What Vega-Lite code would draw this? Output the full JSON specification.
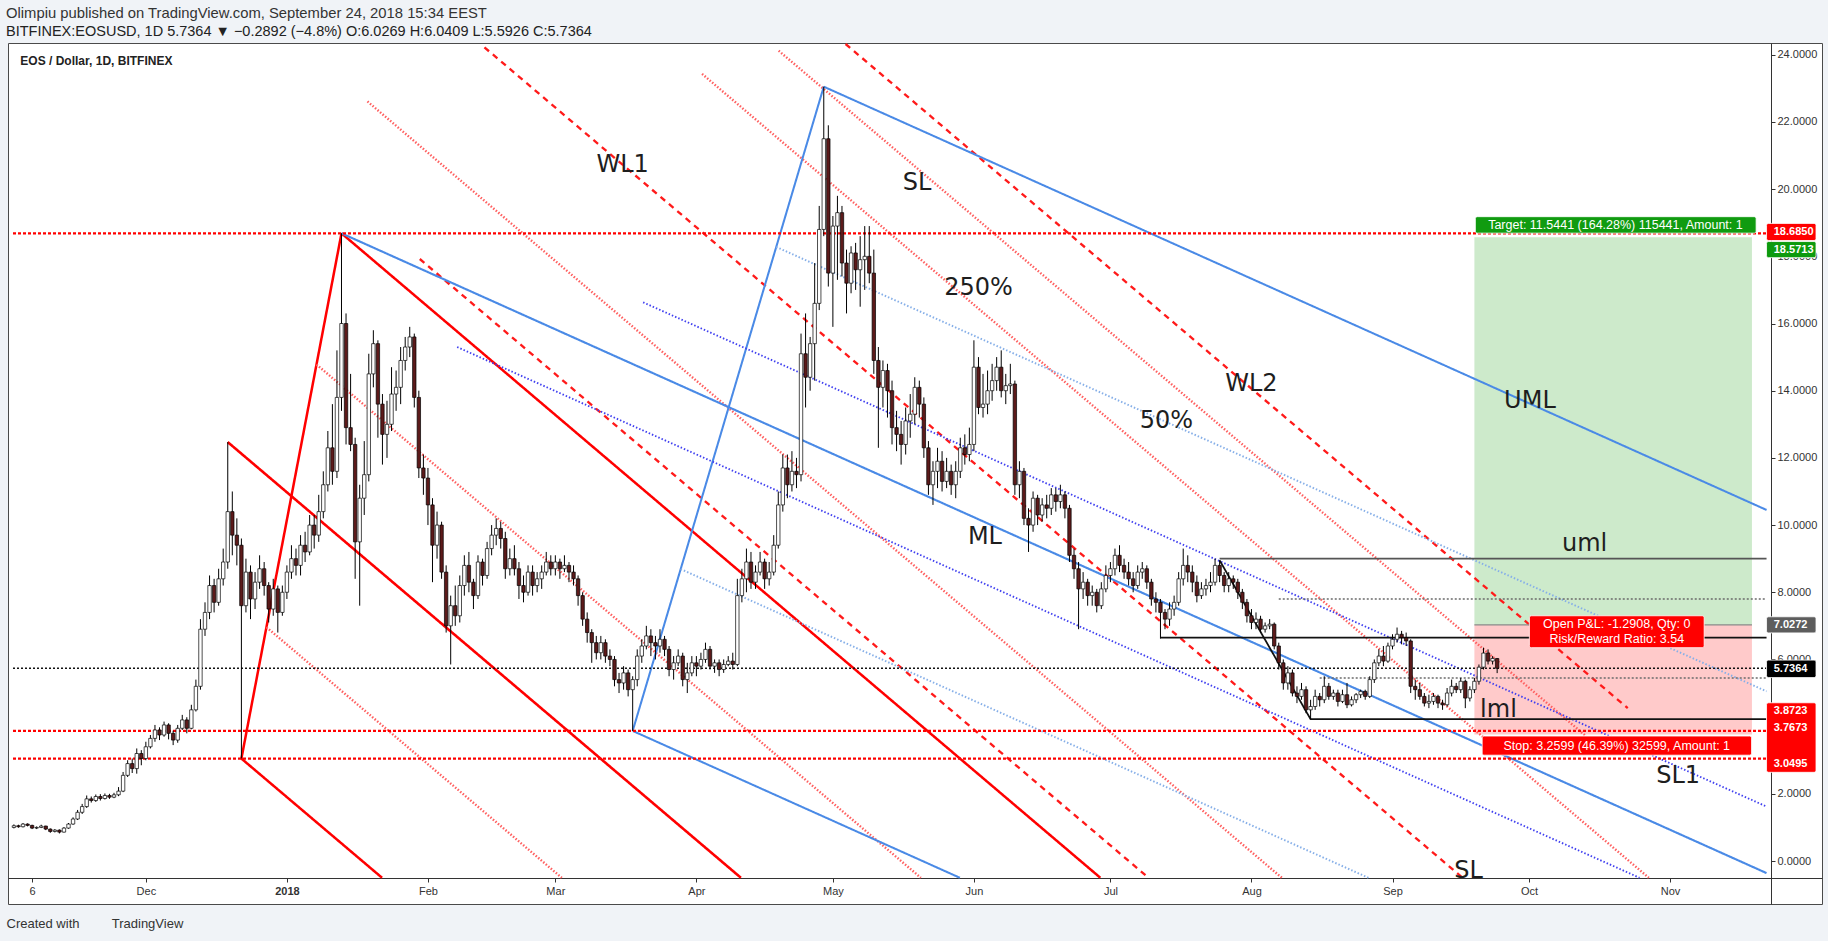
{
  "$schema": "https://vega.github.io/schema/vega-lite/v6.json",
  "width": 1814,
  "height": 861,
  "autosize": "none",
  "padding": {"left": 8, "top": 43, "right": 6, "bottom": 37},
  "background": "#f0f3f7",
  "view": {"fill": "#ffffff", "stroke": "#4a4a4a", "strokeWidth": 1},
  "config": {
    "font": "Liberation Sans",
    "axis": {"grid": false, "domainColor": "#333333", "tickColor": "#333333", "labelColor": "#333333", "labelFontSize": 11, "labelFont": "Liberation Sans"}
  },
  "title": {
    "text": "Olimpiu published on TradingView.com, September 24, 2018 15:34 EEST",
    "subtitle": "BITFINEX:EOSUSD, 1D  5.7364 ▼ −0.2892 (−4.8%)  O:6.0269 H:6.0409 L:5.5926 C:5.7364",
    "anchor": "start",
    "frame": "group",
    "orient": "top",
    "offset": 1,
    "dx": -2,
    "font": "Liberation Sans",
    "fontSize": 14.8,
    "fontWeight": "normal",
    "color": "#333333",
    "subtitleFont": "Liberation Sans",
    "subtitleFontSize": 14.5,
    "subtitleColor": "#222222",
    "subtitlePadding": 4.5
  },
  "resolve": {"scale": {"color": "independent", "strokeWidth": "independent", "strokeDash": "independent"}},
  "datasets": {
    "zones": [
      {"k": "profit", "t": "2018-09-19", "t2": "2018-11-19", "y1": 7.0272, "y2": 18.5713},
      {"k": "loss", "t": "2018-09-19", "t2": "2018-11-19", "y1": 3.7673, "y2": 7.0272}
    ],
    "candles": [
      {"t":"2017-11-02","o":1.00,"h":1.09,"l":0.97,"c":1.05},
      {"t":"2017-11-03","o":1.05,"h":1.08,"l":0.99,"c":1.02},
      {"t":"2017-11-04","o":1.02,"h":1.13,"l":1.00,"c":1.10},
      {"t":"2017-11-05","o":1.10,"h":1.12,"l":1.03,"c":1.06},
      {"t":"2017-11-06","o":1.06,"h":1.08,"l":0.95,"c":0.98},
      {"t":"2017-11-07","o":0.98,"h":1.03,"l":0.95,"c":1.00},
      {"t":"2017-11-08","o":1.00,"h":1.08,"l":0.98,"c":1.04},
      {"t":"2017-11-09","o":1.04,"h":1.05,"l":0.92,"c":0.95},
      {"t":"2017-11-10","o":0.95,"h":0.97,"l":0.84,"c":0.88},
      {"t":"2017-11-11","o":0.88,"h":0.95,"l":0.85,"c":0.92},
      {"t":"2017-11-12","o":0.92,"h":0.94,"l":0.82,"c":0.86},
      {"t":"2017-11-13","o":0.86,"h":1.01,"l":0.85,"c":0.98},
      {"t":"2017-11-14","o":0.98,"h":1.13,"l":0.96,"c":1.10},
      {"t":"2017-11-15","o":1.10,"h":1.30,"l":1.08,"c":1.25},
      {"t":"2017-11-16","o":1.25,"h":1.52,"l":1.22,"c":1.45},
      {"t":"2017-11-17","o":1.45,"h":1.70,"l":1.40,"c":1.62},
      {"t":"2017-11-18","o":1.62,"h":1.95,"l":1.58,"c":1.85},
      {"t":"2017-11-19","o":1.85,"h":1.92,"l":1.74,"c":1.80},
      {"t":"2017-11-20","o":1.80,"h":1.98,"l":1.76,"c":1.92},
      {"t":"2017-11-21","o":1.92,"h":1.99,"l":1.80,"c":1.86},
      {"t":"2017-11-22","o":1.86,"h":2.01,"l":1.83,"c":1.95},
      {"t":"2017-11-23","o":1.95,"h":2.00,"l":1.85,"c":1.90},
      {"t":"2017-11-24","o":1.90,"h":2.03,"l":1.87,"c":1.97},
      {"t":"2017-11-25","o":1.97,"h":2.20,"l":1.93,"c":2.08},
      {"t":"2017-11-26","o":2.08,"h":2.65,"l":2.05,"c":2.55},
      {"t":"2017-11-27","o":2.55,"h":3.00,"l":2.50,"c":2.90},
      {"t":"2017-11-28","o":2.90,"h":3.05,"l":2.62,"c":2.75},
      {"t":"2017-11-29","o":2.75,"h":3.35,"l":2.60,"c":3.20},
      {"t":"2017-11-30","o":3.20,"h":3.30,"l":2.85,"c":3.05},
      {"t":"2017-12-01","o":3.05,"h":3.55,"l":3.00,"c":3.40},
      {"t":"2017-12-02","o":3.40,"h":3.75,"l":3.35,"c":3.65},
      {"t":"2017-12-03","o":3.65,"h":4.05,"l":3.55,"c":3.90},
      {"t":"2017-12-04","o":3.90,"h":3.98,"l":3.60,"c":3.75},
      {"t":"2017-12-05","o":3.75,"h":4.15,"l":3.70,"c":4.05},
      {"t":"2017-12-06","o":4.05,"h":4.10,"l":3.62,"c":3.80},
      {"t":"2017-12-07","o":3.80,"h":3.88,"l":3.45,"c":3.60},
      {"t":"2017-12-08","o":3.60,"h":4.05,"l":3.52,"c":3.95},
      {"t":"2017-12-09","o":3.95,"h":4.35,"l":3.90,"c":4.20},
      {"t":"2017-12-10","o":4.20,"h":4.28,"l":3.80,"c":3.95},
      {"t":"2017-12-11","o":3.95,"h":4.65,"l":3.92,"c":4.50},
      {"t":"2017-12-12","o":4.50,"h":5.40,"l":4.45,"c":5.20},
      {"t":"2017-12-13","o":5.20,"h":7.20,"l":5.10,"c":6.90},
      {"t":"2017-12-14","o":6.90,"h":7.70,"l":6.70,"c":7.40},
      {"t":"2017-12-15","o":7.40,"h":8.50,"l":7.20,"c":8.20},
      {"t":"2017-12-16","o":8.20,"h":8.40,"l":7.40,"c":7.70},
      {"t":"2017-12-17","o":7.70,"h":8.70,"l":7.60,"c":8.40},
      {"t":"2017-12-18","o":8.40,"h":9.30,"l":8.20,"c":8.90},
      {"t":"2017-12-19","o":8.90,"h":12.47,"l":8.70,"c":10.40},
      {"t":"2017-12-20","o":10.40,"h":11.00,"l":9.10,"c":9.70},
      {"t":"2017-12-21","o":9.70,"h":10.20,"l":8.80,"c":9.40},
      {"t":"2017-12-22","o":9.40,"h":9.60,"l":3.05,"c":7.60},
      {"t":"2017-12-23","o":7.60,"h":9.00,"l":7.40,"c":8.60},
      {"t":"2017-12-24","o":8.60,"h":8.80,"l":7.20,"c":7.80},
      {"t":"2017-12-25","o":7.80,"h":8.60,"l":7.50,"c":8.30},
      {"t":"2017-12-26","o":8.30,"h":9.10,"l":8.10,"c":8.70},
      {"t":"2017-12-27","o":8.70,"h":8.90,"l":7.90,"c":8.20},
      {"t":"2017-12-28","o":8.20,"h":8.30,"l":7.10,"c":7.50},
      {"t":"2017-12-29","o":7.50,"h":8.40,"l":7.30,"c":8.10},
      {"t":"2017-12-30","o":8.10,"h":8.20,"l":6.80,"c":7.40},
      {"t":"2017-12-31","o":7.40,"h":8.20,"l":7.30,"c":8.00},
      {"t":"2018-01-01","o":8.00,"h":8.80,"l":7.80,"c":8.60},
      {"t":"2018-01-02","o":8.60,"h":9.40,"l":8.40,"c":9.00},
      {"t":"2018-01-03","o":9.00,"h":9.30,"l":8.50,"c":8.80},
      {"t":"2018-01-04","o":8.80,"h":9.70,"l":8.50,"c":9.40},
      {"t":"2018-01-05","o":9.40,"h":9.80,"l":8.90,"c":9.20},
      {"t":"2018-01-06","o":9.20,"h":10.30,"l":9.10,"c":10.00},
      {"t":"2018-01-07","o":10.00,"h":10.30,"l":9.30,"c":9.70},
      {"t":"2018-01-08","o":9.70,"h":10.90,"l":9.50,"c":10.40},
      {"t":"2018-01-09","o":10.40,"h":11.60,"l":10.20,"c":11.20},
      {"t":"2018-01-10","o":11.20,"h":12.80,"l":11.00,"c":12.30},
      {"t":"2018-01-11","o":12.30,"h":13.60,"l":11.20,"c":11.60},
      {"t":"2018-01-12","o":11.60,"h":15.20,"l":11.40,"c":13.80},
      {"t":"2018-01-13","o":13.80,"h":18.685,"l":13.40,"c":16.00},
      {"t":"2018-01-14","o":16.00,"h":16.30,"l":12.40,"c":12.90},
      {"t":"2018-01-15","o":12.90,"h":14.50,"l":12.20,"c":12.40},
      {"t":"2018-01-16","o":12.40,"h":12.60,"l":8.40,"c":9.50},
      {"t":"2018-01-17","o":9.50,"h":11.20,"l":7.60,"c":10.80},
      {"t":"2018-01-18","o":10.80,"h":12.50,"l":10.30,"c":11.50},
      {"t":"2018-01-19","o":11.50,"h":15.10,"l":11.30,"c":14.50},
      {"t":"2018-01-20","o":14.50,"h":15.80,"l":14.10,"c":15.40},
      {"t":"2018-01-21","o":15.40,"h":15.50,"l":12.60,"c":13.60},
      {"t":"2018-01-22","o":13.60,"h":13.90,"l":11.80,"c":12.70},
      {"t":"2018-01-23","o":12.70,"h":13.70,"l":12.00,"c":13.00},
      {"t":"2018-01-24","o":13.00,"h":14.70,"l":12.80,"c":13.90},
      {"t":"2018-01-25","o":13.90,"h":14.60,"l":13.40,"c":14.10},
      {"t":"2018-01-26","o":14.10,"h":15.30,"l":13.60,"c":14.90},
      {"t":"2018-01-27","o":14.90,"h":15.60,"l":14.60,"c":15.30},
      {"t":"2018-01-28","o":15.30,"h":15.90,"l":15.00,"c":15.60},
      {"t":"2018-01-29","o":15.60,"h":15.70,"l":13.50,"c":13.80},
      {"t":"2018-01-30","o":13.80,"h":14.00,"l":11.40,"c":11.70},
      {"t":"2018-01-31","o":11.70,"h":12.10,"l":10.90,"c":11.40},
      {"t":"2018-02-01","o":11.40,"h":11.70,"l":10.00,"c":10.60},
      {"t":"2018-02-02","o":10.60,"h":10.80,"l":8.30,"c":9.40},
      {"t":"2018-02-03","o":9.40,"h":10.40,"l":9.00,"c":10.00},
      {"t":"2018-02-04","o":10.00,"h":10.10,"l":8.40,"c":8.60},
      {"t":"2018-02-05","o":8.60,"h":8.80,"l":6.80,"c":7.00},
      {"t":"2018-02-06","o":7.00,"h":7.90,"l":5.85,"c":7.60},
      {"t":"2018-02-07","o":7.60,"h":8.20,"l":7.00,"c":7.30},
      {"t":"2018-02-08","o":7.30,"h":8.50,"l":7.10,"c":8.20},
      {"t":"2018-02-09","o":8.20,"h":9.10,"l":7.90,"c":8.80},
      {"t":"2018-02-10","o":8.80,"h":9.20,"l":8.00,"c":8.30},
      {"t":"2018-02-11","o":8.30,"h":8.40,"l":7.50,"c":7.90},
      {"t":"2018-02-12","o":7.90,"h":9.10,"l":7.80,"c":8.90},
      {"t":"2018-02-13","o":8.90,"h":9.00,"l":8.20,"c":8.50},
      {"t":"2018-02-14","o":8.50,"h":9.50,"l":8.40,"c":9.30},
      {"t":"2018-02-15","o":9.30,"h":10.00,"l":9.10,"c":9.70},
      {"t":"2018-02-16","o":9.70,"h":10.20,"l":9.40,"c":9.90},
      {"t":"2018-02-17","o":9.90,"h":10.10,"l":9.30,"c":9.60},
      {"t":"2018-02-18","o":9.60,"h":9.80,"l":8.40,"c":8.70},
      {"t":"2018-02-19","o":8.70,"h":9.30,"l":8.50,"c":9.00},
      {"t":"2018-02-20","o":9.00,"h":9.40,"l":8.50,"c":8.70},
      {"t":"2018-02-21","o":8.70,"h":8.90,"l":7.80,"c":8.20},
      {"t":"2018-02-22","o":8.20,"h":8.50,"l":7.70,"c":8.00},
      {"t":"2018-02-23","o":8.00,"h":8.80,"l":7.90,"c":8.60},
      {"t":"2018-02-24","o":8.60,"h":8.80,"l":7.90,"c":8.20},
      {"t":"2018-02-25","o":8.20,"h":8.60,"l":8.00,"c":8.40},
      {"t":"2018-02-26","o":8.40,"h":8.80,"l":8.10,"c":8.60},
      {"t":"2018-02-27","o":8.60,"h":9.20,"l":8.50,"c":8.90},
      {"t":"2018-02-28","o":8.90,"h":9.10,"l":8.50,"c":8.70},
      {"t":"2018-03-01","o":8.70,"h":9.10,"l":8.50,"c":8.90},
      {"t":"2018-03-02","o":8.90,"h":9.00,"l":8.40,"c":8.70},
      {"t":"2018-03-03","o":8.70,"h":9.10,"l":8.60,"c":8.80},
      {"t":"2018-03-04","o":8.80,"h":8.90,"l":8.30,"c":8.60},
      {"t":"2018-03-05","o":8.60,"h":8.80,"l":8.20,"c":8.40},
      {"t":"2018-03-06","o":8.40,"h":8.50,"l":7.60,"c":7.90},
      {"t":"2018-03-07","o":7.90,"h":8.00,"l":7.00,"c":7.20},
      {"t":"2018-03-08","o":7.20,"h":7.40,"l":6.50,"c":6.80},
      {"t":"2018-03-09","o":6.80,"h":6.90,"l":5.90,"c":6.50},
      {"t":"2018-03-10","o":6.50,"h":6.70,"l":6.00,"c":6.20},
      {"t":"2018-03-11","o":6.20,"h":6.70,"l":6.00,"c":6.50},
      {"t":"2018-03-12","o":6.50,"h":6.60,"l":5.90,"c":6.10},
      {"t":"2018-03-13","o":6.10,"h":6.30,"l":5.80,"c":6.00},
      {"t":"2018-03-14","o":6.00,"h":6.10,"l":5.20,"c":5.40},
      {"t":"2018-03-15","o":5.40,"h":5.60,"l":5.00,"c":5.30},
      {"t":"2018-03-16","o":5.30,"h":5.80,"l":5.10,"c":5.60},
      {"t":"2018-03-17","o":5.60,"h":5.70,"l":4.90,"c":5.10},
      {"t":"2018-03-18","o":5.10,"h":5.50,"l":3.87,"c":5.40},
      {"t":"2018-03-19","o":5.40,"h":6.30,"l":5.20,"c":6.10},
      {"t":"2018-03-20","o":6.10,"h":6.60,"l":5.90,"c":6.40},
      {"t":"2018-03-21","o":6.40,"h":7.00,"l":6.30,"c":6.70},
      {"t":"2018-03-22","o":6.70,"h":6.90,"l":6.10,"c":6.50},
      {"t":"2018-03-23","o":6.50,"h":6.70,"l":6.00,"c":6.40},
      {"t":"2018-03-24","o":6.40,"h":6.90,"l":6.20,"c":6.60},
      {"t":"2018-03-25","o":6.60,"h":6.70,"l":6.10,"c":6.30},
      {"t":"2018-03-26","o":6.30,"h":6.40,"l":5.50,"c":5.70},
      {"t":"2018-03-27","o":5.70,"h":6.10,"l":5.40,"c":5.90},
      {"t":"2018-03-28","o":5.90,"h":6.30,"l":5.80,"c":6.10},
      {"t":"2018-03-29","o":6.10,"h":6.20,"l":5.20,"c":5.40},
      {"t":"2018-03-30","o":5.40,"h":5.90,"l":5.00,"c":5.60},
      {"t":"2018-03-31","o":5.60,"h":6.10,"l":5.50,"c":5.90},
      {"t":"2018-04-01","o":5.90,"h":6.10,"l":5.50,"c":5.80},
      {"t":"2018-04-02","o":5.80,"h":6.20,"l":5.70,"c":6.00},
      {"t":"2018-04-03","o":6.00,"h":6.50,"l":5.90,"c":6.30},
      {"t":"2018-04-04","o":6.30,"h":6.40,"l":5.70,"c":5.80},
      {"t":"2018-04-05","o":5.80,"h":6.00,"l":5.60,"c":5.90},
      {"t":"2018-04-06","o":5.90,"h":6.00,"l":5.50,"c":5.70},
      {"t":"2018-04-07","o":5.70,"h":6.00,"l":5.60,"c":5.85},
      {"t":"2018-04-08","o":5.85,"h":6.10,"l":5.80,"c":5.95},
      {"t":"2018-04-09","o":5.95,"h":6.20,"l":5.70,"c":5.85},
      {"t":"2018-04-10","o":5.85,"h":8.40,"l":5.80,"c":7.90},
      {"t":"2018-04-11","o":7.90,"h":8.70,"l":7.70,"c":8.40},
      {"t":"2018-04-12","o":8.40,"h":9.30,"l":8.00,"c":8.90},
      {"t":"2018-04-13","o":8.90,"h":9.20,"l":8.10,"c":8.30},
      {"t":"2018-04-14","o":8.30,"h":8.80,"l":8.10,"c":8.60},
      {"t":"2018-04-15","o":8.60,"h":9.20,"l":8.50,"c":8.90},
      {"t":"2018-04-16","o":8.90,"h":9.00,"l":8.10,"c":8.40},
      {"t":"2018-04-17","o":8.40,"h":8.90,"l":8.20,"c":8.60},
      {"t":"2018-04-18","o":8.60,"h":9.70,"l":8.50,"c":9.40},
      {"t":"2018-04-19","o":9.40,"h":11.00,"l":9.30,"c":10.60},
      {"t":"2018-04-20","o":10.60,"h":12.10,"l":10.40,"c":11.70},
      {"t":"2018-04-21","o":11.70,"h":12.10,"l":10.80,"c":11.20},
      {"t":"2018-04-22","o":11.20,"h":12.20,"l":11.00,"c":11.60},
      {"t":"2018-04-23","o":11.60,"h":12.00,"l":11.10,"c":11.50},
      {"t":"2018-04-24","o":11.50,"h":15.70,"l":11.30,"c":15.10},
      {"t":"2018-04-25","o":15.10,"h":16.30,"l":13.50,"c":14.40},
      {"t":"2018-04-26","o":14.40,"h":15.60,"l":14.00,"c":15.40},
      {"t":"2018-04-27","o":15.40,"h":17.80,"l":14.30,"c":16.60},
      {"t":"2018-04-28","o":16.60,"h":19.50,"l":16.40,"c":18.80},
      {"t":"2018-04-29","o":18.80,"h":23.05,"l":18.60,"c":21.50},
      {"t":"2018-04-30","o":21.50,"h":21.90,"l":17.10,"c":17.50},
      {"t":"2018-05-01","o":17.50,"h":19.20,"l":15.90,"c":18.90},
      {"t":"2018-05-02","o":18.90,"h":19.80,"l":17.30,"c":19.30},
      {"t":"2018-05-03","o":19.30,"h":19.50,"l":17.40,"c":17.80},
      {"t":"2018-05-04","o":17.80,"h":18.20,"l":16.30,"c":17.20},
      {"t":"2018-05-05","o":17.20,"h":18.30,"l":16.90,"c":18.10},
      {"t":"2018-05-06","o":18.10,"h":18.40,"l":17.00,"c":17.60},
      {"t":"2018-05-07","o":17.60,"h":18.60,"l":16.50,"c":17.90},
      {"t":"2018-05-08","o":17.90,"h":18.90,"l":17.00,"c":18.00},
      {"t":"2018-05-09","o":18.00,"h":18.90,"l":17.20,"c":17.50},
      {"t":"2018-05-10","o":17.50,"h":18.20,"l":14.50,"c":14.90},
      {"t":"2018-05-11","o":14.90,"h":15.30,"l":12.30,"c":14.10},
      {"t":"2018-05-12","o":14.10,"h":14.90,"l":13.50,"c":14.60},
      {"t":"2018-05-13","o":14.60,"h":14.80,"l":13.20,"c":14.00},
      {"t":"2018-05-14","o":14.00,"h":14.30,"l":12.40,"c":12.90},
      {"t":"2018-05-15","o":12.90,"h":13.40,"l":12.20,"c":12.70},
      {"t":"2018-05-16","o":12.70,"h":13.10,"l":11.80,"c":12.40},
      {"t":"2018-05-17","o":12.40,"h":13.50,"l":12.10,"c":13.10},
      {"t":"2018-05-18","o":13.10,"h":13.90,"l":12.60,"c":13.30},
      {"t":"2018-05-19","o":13.30,"h":14.40,"l":13.00,"c":14.10},
      {"t":"2018-05-20","o":14.10,"h":14.30,"l":13.20,"c":13.60},
      {"t":"2018-05-21","o":13.60,"h":13.80,"l":12.00,"c":12.30},
      {"t":"2018-05-22","o":12.30,"h":12.50,"l":10.90,"c":11.20},
      {"t":"2018-05-23","o":11.20,"h":11.90,"l":10.60,"c":11.60},
      {"t":"2018-05-24","o":11.60,"h":12.30,"l":11.10,"c":11.90},
      {"t":"2018-05-25","o":11.90,"h":12.20,"l":11.00,"c":11.30},
      {"t":"2018-05-26","o":11.30,"h":12.00,"l":11.10,"c":11.60},
      {"t":"2018-05-27","o":11.60,"h":11.80,"l":10.90,"c":11.20},
      {"t":"2018-05-28","o":11.20,"h":11.90,"l":10.80,"c":11.60},
      {"t":"2018-05-29","o":11.60,"h":12.60,"l":11.40,"c":12.30},
      {"t":"2018-05-30","o":12.30,"h":12.70,"l":11.80,"c":12.10},
      {"t":"2018-05-31","o":12.10,"h":12.90,"l":11.90,"c":12.40},
      {"t":"2018-06-01","o":12.40,"h":15.50,"l":12.20,"c":14.70},
      {"t":"2018-06-02","o":14.70,"h":15.00,"l":13.30,"c":13.50},
      {"t":"2018-06-03","o":13.50,"h":14.50,"l":13.20,"c":13.60},
      {"t":"2018-06-04","o":13.60,"h":14.60,"l":13.30,"c":14.00},
      {"t":"2018-06-05","o":14.00,"h":14.80,"l":13.70,"c":14.30},
      {"t":"2018-06-06","o":14.30,"h":15.00,"l":14.00,"c":14.70},
      {"t":"2018-06-07","o":14.70,"h":15.20,"l":13.80,"c":14.00},
      {"t":"2018-06-08","o":14.00,"h":14.50,"l":13.60,"c":14.15},
      {"t":"2018-06-09","o":14.15,"h":14.80,"l":13.90,"c":14.20},
      {"t":"2018-06-10","o":14.20,"h":14.30,"l":10.90,"c":11.20},
      {"t":"2018-06-11","o":11.20,"h":11.90,"l":10.80,"c":11.60},
      {"t":"2018-06-12","o":11.60,"h":11.70,"l":10.00,"c":10.20},
      {"t":"2018-06-13","o":10.20,"h":10.50,"l":9.20,"c":10.00},
      {"t":"2018-06-14","o":10.00,"h":11.00,"l":9.80,"c":10.80},
      {"t":"2018-06-15","o":10.80,"h":10.90,"l":10.00,"c":10.30},
      {"t":"2018-06-16","o":10.30,"h":10.80,"l":10.10,"c":10.60},
      {"t":"2018-06-17","o":10.60,"h":10.90,"l":10.20,"c":10.50},
      {"t":"2018-06-18","o":10.50,"h":11.10,"l":10.30,"c":10.90},
      {"t":"2018-06-19","o":10.90,"h":11.10,"l":10.40,"c":10.70},
      {"t":"2018-06-20","o":10.70,"h":11.20,"l":10.50,"c":10.90},
      {"t":"2018-06-21","o":10.90,"h":11.00,"l":10.20,"c":10.50},
      {"t":"2018-06-22","o":10.50,"h":10.60,"l":8.90,"c":9.10},
      {"t":"2018-06-23","o":9.10,"h":9.30,"l":8.40,"c":8.70},
      {"t":"2018-06-24","o":8.70,"h":8.90,"l":6.90,"c":8.10},
      {"t":"2018-06-25","o":8.10,"h":8.60,"l":7.80,"c":8.30},
      {"t":"2018-06-26","o":8.30,"h":8.40,"l":7.60,"c":7.90},
      {"t":"2018-06-27","o":7.90,"h":8.20,"l":7.60,"c":8.00},
      {"t":"2018-06-28","o":8.00,"h":8.10,"l":7.40,"c":7.60},
      {"t":"2018-06-29","o":7.60,"h":8.30,"l":7.50,"c":8.10},
      {"t":"2018-06-30","o":8.10,"h":8.80,"l":8.00,"c":8.50},
      {"t":"2018-07-01","o":8.50,"h":8.90,"l":8.30,"c":8.70},
      {"t":"2018-07-02","o":8.70,"h":9.30,"l":8.50,"c":9.10},
      {"t":"2018-07-03","o":9.10,"h":9.40,"l":8.60,"c":8.80},
      {"t":"2018-07-04","o":8.80,"h":9.00,"l":8.40,"c":8.60},
      {"t":"2018-07-05","o":8.60,"h":8.90,"l":8.20,"c":8.40},
      {"t":"2018-07-06","o":8.40,"h":8.60,"l":8.00,"c":8.20},
      {"t":"2018-07-07","o":8.20,"h":8.80,"l":8.10,"c":8.60},
      {"t":"2018-07-08","o":8.60,"h":8.90,"l":8.40,"c":8.70},
      {"t":"2018-07-09","o":8.70,"h":8.80,"l":8.10,"c":8.30},
      {"t":"2018-07-10","o":8.30,"h":8.40,"l":7.60,"c":7.80},
      {"t":"2018-07-11","o":7.80,"h":8.00,"l":7.40,"c":7.70},
      {"t":"2018-07-12","o":7.70,"h":7.80,"l":6.62,"c":7.40},
      {"t":"2018-07-13","o":7.40,"h":7.50,"l":6.90,"c":7.20},
      {"t":"2018-07-14","o":7.20,"h":7.70,"l":7.00,"c":7.50},
      {"t":"2018-07-15","o":7.50,"h":7.90,"l":7.30,"c":7.70},
      {"t":"2018-07-16","o":7.70,"h":8.60,"l":7.60,"c":8.40},
      {"t":"2018-07-17","o":8.40,"h":9.30,"l":8.20,"c":8.80},
      {"t":"2018-07-18","o":8.80,"h":9.10,"l":8.30,"c":8.60},
      {"t":"2018-07-19","o":8.60,"h":8.80,"l":8.00,"c":8.30},
      {"t":"2018-07-20","o":8.30,"h":8.50,"l":7.70,"c":7.90},
      {"t":"2018-07-21","o":7.90,"h":8.30,"l":7.80,"c":8.10},
      {"t":"2018-07-22","o":8.10,"h":8.40,"l":7.90,"c":8.20},
      {"t":"2018-07-23","o":8.20,"h":8.60,"l":8.00,"c":8.30},
      {"t":"2018-07-24","o":8.30,"h":9.00,"l":8.20,"c":8.80},
      {"t":"2018-07-25","o":8.80,"h":8.95,"l":8.30,"c":8.50},
      {"t":"2018-07-26","o":8.50,"h":8.60,"l":8.00,"c":8.20},
      {"t":"2018-07-27","o":8.20,"h":8.60,"l":8.00,"c":8.40},
      {"t":"2018-07-28","o":8.40,"h":8.50,"l":8.10,"c":8.30},
      {"t":"2018-07-29","o":8.30,"h":8.40,"l":7.80,"c":8.00},
      {"t":"2018-07-30","o":8.00,"h":8.10,"l":7.50,"c":7.70},
      {"t":"2018-07-31","o":7.70,"h":7.80,"l":7.10,"c":7.30},
      {"t":"2018-08-01","o":7.30,"h":7.50,"l":6.90,"c":7.10},
      {"t":"2018-08-02","o":7.10,"h":7.40,"l":6.90,"c":7.20},
      {"t":"2018-08-03","o":7.20,"h":7.30,"l":6.80,"c":6.90},
      {"t":"2018-08-04","o":6.90,"h":7.10,"l":6.80,"c":7.00},
      {"t":"2018-08-05","o":7.00,"h":7.20,"l":6.90,"c":7.05},
      {"t":"2018-08-06","o":7.05,"h":7.10,"l":6.30,"c":6.40},
      {"t":"2018-08-07","o":6.40,"h":6.50,"l":5.70,"c":5.90},
      {"t":"2018-08-08","o":5.90,"h":6.00,"l":5.10,"c":5.30},
      {"t":"2018-08-09","o":5.30,"h":5.80,"l":5.10,"c":5.60},
      {"t":"2018-08-10","o":5.60,"h":5.70,"l":4.90,"c":5.00},
      {"t":"2018-08-11","o":5.00,"h":5.20,"l":4.70,"c":4.90},
      {"t":"2018-08-12","o":4.90,"h":5.30,"l":4.80,"c":5.10},
      {"t":"2018-08-13","o":5.10,"h":5.20,"l":4.40,"c":4.50},
      {"t":"2018-08-14","o":4.50,"h":4.80,"l":4.20,"c":4.60},
      {"t":"2018-08-15","o":4.60,"h":5.10,"l":4.50,"c":4.90},
      {"t":"2018-08-16","o":4.90,"h":5.00,"l":4.60,"c":4.80},
      {"t":"2018-08-17","o":4.80,"h":5.50,"l":4.70,"c":5.20},
      {"t":"2018-08-18","o":5.20,"h":5.30,"l":4.80,"c":4.90},
      {"t":"2018-08-19","o":4.90,"h":5.10,"l":4.80,"c":5.00},
      {"t":"2018-08-20","o":5.00,"h":5.10,"l":4.60,"c":4.75},
      {"t":"2018-08-21","o":4.75,"h":5.10,"l":4.70,"c":4.95},
      {"t":"2018-08-22","o":4.95,"h":5.30,"l":4.55,"c":4.65},
      {"t":"2018-08-23","o":4.65,"h":4.90,"l":4.60,"c":4.80},
      {"t":"2018-08-24","o":4.80,"h":5.00,"l":4.70,"c":4.95},
      {"t":"2018-08-25","o":4.95,"h":5.10,"l":4.85,"c":5.05},
      {"t":"2018-08-26","o":5.05,"h":5.10,"l":4.80,"c":4.90},
      {"t":"2018-08-27","o":4.90,"h":5.50,"l":4.85,"c":5.40},
      {"t":"2018-08-28","o":5.40,"h":6.00,"l":5.30,"c":5.90},
      {"t":"2018-08-29","o":5.90,"h":6.30,"l":5.80,"c":6.10},
      {"t":"2018-08-30","o":6.10,"h":6.40,"l":5.80,"c":5.95},
      {"t":"2018-08-31","o":5.95,"h":6.50,"l":5.90,"c":6.40},
      {"t":"2018-09-01","o":6.40,"h":6.75,"l":6.30,"c":6.60},
      {"t":"2018-09-02","o":6.60,"h":6.95,"l":6.50,"c":6.75},
      {"t":"2018-09-03","o":6.75,"h":6.85,"l":6.45,"c":6.65},
      {"t":"2018-09-04","o":6.65,"h":6.80,"l":6.40,"c":6.55},
      {"t":"2018-09-05","o":6.55,"h":6.60,"l":5.00,"c":5.20},
      {"t":"2018-09-06","o":5.20,"h":5.40,"l":4.80,"c":5.10},
      {"t":"2018-09-07","o":5.10,"h":5.30,"l":4.80,"c":4.90},
      {"t":"2018-09-08","o":4.90,"h":5.00,"l":4.60,"c":4.70},
      {"t":"2018-09-09","o":4.70,"h":4.95,"l":4.55,"c":4.75},
      {"t":"2018-09-10","o":4.75,"h":5.00,"l":4.65,"c":4.90},
      {"t":"2018-09-11","o":4.90,"h":4.95,"l":4.55,"c":4.70},
      {"t":"2018-09-12","o":4.70,"h":4.80,"l":4.50,"c":4.65},
      {"t":"2018-09-13","o":4.65,"h":5.15,"l":4.60,"c":5.00},
      {"t":"2018-09-14","o":5.00,"h":5.40,"l":4.90,"c":5.20},
      {"t":"2018-09-15","o":5.20,"h":5.30,"l":5.00,"c":5.10},
      {"t":"2018-09-16","o":5.10,"h":5.45,"l":5.00,"c":5.35},
      {"t":"2018-09-17","o":5.35,"h":5.40,"l":4.55,"c":4.85},
      {"t":"2018-09-18","o":4.85,"h":5.20,"l":4.75,"c":5.10},
      {"t":"2018-09-19","o":5.10,"h":5.45,"l":5.00,"c":5.35},
      {"t":"2018-09-20","o":5.35,"h":5.85,"l":5.25,"c":5.77},
      {"t":"2018-09-21","o":5.77,"h":6.35,"l":5.70,"c":6.19},
      {"t":"2018-09-22","o":6.19,"h":6.30,"l":5.85,"c":5.95},
      {"t":"2018-09-23","o":5.95,"h":6.10,"l":5.85,"c":6.03},
      {"t":"2018-09-24","o":6.0269,"h":6.0409,"l":5.5926,"c":5.7364}
    ],
    "lines": [
      {"g":"s1","s":"redThick","t":"2017-12-19","p":12.47},
      {"g":"s1","s":"redThick","t":"2018-04-10T19:00Z","p":-0.5},
      {"g":"s2","s":"red","t":"2017-12-22","p":3.0495},
      {"g":"s2","s":"red","t":"2018-01-21T22:00Z","p":-0.5},
      {"g":"s3","s":"red","t":"2018-01-13","p":18.685},
      {"g":"s3","s":"red","t":"2018-06-28T19:00Z","p":-0.5},
      {"g":"s4","s":"red","t":"2017-12-22","p":3.0495},
      {"g":"s4","s":"red","t":"2018-01-13","p":18.685},
      {"g":"s5","s":"redDot","t":"2017-12-27T12:00Z","p":6.96},
      {"g":"s5","s":"redDot","t":"2018-03-02T10:00Z","p":-0.5},
      {"g":"s6","s":"redDot","t":"2018-01-07T12:00Z","p":14.78},
      {"g":"s6","s":"redDot","t":"2018-05-20T08:00Z","p":-0.5},
      {"g":"s7","s":"redDot","t":"2018-01-18T17:00Z","p":22.61},
      {"g":"s7","s":"redDot","t":"2018-08-07T16:00Z","p":-0.5},
      {"g":"s8","s":"redDash","t":"2018-02-13T10:00Z","p":24.22},
      {"g":"s8","s":"redDash","t":"2018-09-16T10:00Z","p":-0.5},
      {"g":"s9","s":"redDash","t":"2018-01-30T05:00Z","p":17.92},
      {"g":"s9","s":"redDash","t":"2018-07-09T09:00Z","p":-0.5},
      {"g":"s10","s":"redDot","t":"2018-04-02T06:00Z","p":23.43},
      {"g":"s10","s":"redDot","t":"2018-10-27T08:00Z","p":-0.5},
      {"g":"s11","s":"redDot","t":"2018-04-19T02:00Z","p":24.12},
      {"g":"s11","s":"redDot","t":"2018-10-13T14:00Z","p":3.71},
      {"g":"s12","s":"redDash","t":"2018-05-03T19:00Z","p":24.32},
      {"g":"s12","s":"redDash","t":"2018-10-22T17:00Z","p":4.55},
      {"g":"s13","s":"blue","t":"2018-03-18","p":3.8723},
      {"g":"s13","s":"blue","t":"2018-04-29","p":23.05},
      {"g":"s14","s":"blueThick","t":"2018-01-13","p":18.685},
      {"g":"s14","s":"blueThick","t":"2018-11-22T05:00Z","p":-0.36},
      {"g":"s15","s":"blue","t":"2018-04-29","p":23.05},
      {"g":"s15","s":"blue","t":"2018-11-22T05:00Z","p":10.45},
      {"g":"s16","s":"blue","t":"2018-03-18","p":3.8723},
      {"g":"s16","s":"blue","t":"2018-05-28T22:00Z","p":-0.5},
      {"g":"s17","s":"blueDot","t":"2018-04-18T13:00Z","p":18.28},
      {"g":"s17","s":"blueDot","t":"2018-11-22T05:00Z","p":5.05},
      {"g":"s18","s":"blueDot","t":"2018-03-28T13:00Z","p":8.69},
      {"g":"s18","s":"blueDot","t":"2018-08-26T17:00Z","p":-0.5},
      {"g":"s19","s":"purpleDot","t":"2018-03-20T07:00Z","p":16.63},
      {"g":"s19","s":"purpleDot","t":"2018-11-22T05:00Z","p":1.62},
      {"g":"s20","s":"purpleDot","t":"2018-02-07T10:00Z","p":15.30},
      {"g":"s20","s":"purpleDot","t":"2018-10-25T07:00Z","p":-0.5},
      {"g":"s21","s":"black","t":"2018-07-25","p":8.95},
      {"g":"s21","s":"black","t":"2018-08-14","p":4.22},
      {"g":"s22","s":"gray","t":"2018-07-25","p":9.0},
      {"g":"s22","s":"gray","t":"2018-11-22T05:00Z","p":9.0},
      {"g":"s23","s":"blackThick","t":"2018-07-12","p":6.65},
      {"g":"s23","s":"blackThick","t":"2018-11-22T05:00Z","p":6.65},
      {"g":"s24","s":"black","t":"2018-08-14","p":4.22},
      {"g":"s24","s":"black","t":"2018-11-22T05:00Z","p":4.22},
      {"g":"s25","s":"grayDot","t":"2018-08-07","p":7.8},
      {"g":"s25","s":"grayDot","t":"2018-11-22T05:00Z","p":7.8},
      {"g":"s26","s":"grayDot","t":"2018-08-16","p":5.45},
      {"g":"s26","s":"grayDot","t":"2018-11-22T05:00Z","p":5.45},
      {"g":"s27","s":"redH","t":"2017-11-01T19:12Z","p":18.685},
      {"g":"s27","s":"redH","t":"2018-11-22T05:00Z","p":18.685},
      {"g":"s28","s":"redH","t":"2017-11-01T19:12Z","p":3.8723},
      {"g":"s28","s":"redH","t":"2018-11-22T05:00Z","p":3.8723},
      {"g":"s29","s":"redH","t":"2017-11-01T19:12Z","p":3.0495},
      {"g":"s29","s":"redH","t":"2018-11-22T05:00Z","p":3.0495},
      {"g":"s30","s":"blackDot","t":"2017-11-01T19:12Z","p":5.7364},
      {"g":"s30","s":"blackDot","t":"2018-11-22T05:00Z","p":5.7364},
      {"g":"s31","s":"entry","t":"2018-09-19","p":7.0272},
      {"g":"s31","s":"entry","t":"2018-11-19","p":7.0272}
    ],
    "notes": [
      {"txt": "WL1", "t": "2018-03-15T19:00Z", "p": 20.73},
      {"txt": "SL", "t": "2018-05-19T12:00Z", "p": 20.18},
      {"txt": "250%", "t": "2018-06-02", "p": 17.06},
      {"txt": "50%", "t": "2018-07-13T07:00Z", "p": 13.09},
      {"txt": "WL2", "t": "2018-08-01", "p": 14.2},
      {"txt": "UML", "t": "2018-10-01T05:00Z", "p": 13.68},
      {"txt": "ML", "t": "2018-06-03T10:00Z", "p": 9.63},
      {"txt": "uml", "t": "2018-10-13T05:00Z", "p": 9.45},
      {"txt": "lml", "t": "2018-09-24T07:00Z", "p": 4.49},
      {"txt": "SL1", "t": "2018-11-02T19:00Z", "p": 2.53},
      {"txt": "SL", "t": "2018-09-17T17:00Z", "p": -0.3}
    ],
    "boxes": [
      {"k": "target", "t": "2018-09-19T05:00Z", "t2": "2018-11-19T22:00Z", "y1": 18.69, "y2": 19.18},
      {"k": "pnl", "t": "2018-10-01T02:00Z", "t2": "2018-11-08T12:00Z", "y1": 6.35, "y2": 7.3},
      {"k": "stop", "t": "2018-09-20T17:00Z", "t2": "2018-11-18T22:00Z", "y1": 3.15, "y2": 3.72},
      {"k": "ax_red", "t": "2018-11-22T05:00Z", "t2": "2018-12-03T02:00Z", "y1": 18.47, "y2": 18.98},
      {"k": "ax_green", "t": "2018-11-22T05:00Z", "t2": "2018-12-03T02:00Z", "y1": 17.96, "y2": 18.44},
      {"k": "ax_gray", "t": "2018-11-22T05:00Z", "t2": "2018-12-03T02:00Z", "y1": 6.79, "y2": 7.27},
      {"k": "ax_black", "t": "2018-11-22T05:00Z", "t2": "2018-12-03T02:00Z", "y1": 5.46, "y2": 5.98},
      {"k": "ax_red", "t": "2018-11-22T05:00Z", "t2": "2018-12-03T02:00Z", "y1": 2.64, "y2": 4.71}
    ],
    "boxtext": [
      {"txt": "Target: 11.5441 (164.28%) 115441, Amount: 1", "t": "2018-10-20", "p": 18.935},
      {"txt": "Open P&L: -1.2908, Qty: 0", "t": "2018-10-20T07:00Z", "p": 7.05},
      {"txt": "Risk/Reward Ratio: 3.54", "t": "2018-10-20T07:00Z", "p": 6.61},
      {"txt": "Stop: 3.2599 (46.39%) 32599, Amount: 1", "t": "2018-10-20T07:00Z", "p": 3.435}
    ],
    "tagtext": [
      {"txt": "18.6850", "t": "2018-11-23T19:00Z", "p": 18.725},
      {"txt": "18.5713", "t": "2018-11-23T19:00Z", "p": 18.2},
      {"txt": "7.0272", "t": "2018-11-23T19:00Z", "p": 7.03},
      {"txt": "5.7364", "t": "2018-11-23T19:00Z", "p": 5.72},
      {"txt": "3.8723", "t": "2018-11-23T19:00Z", "p": 4.47},
      {"txt": "3.7673", "t": "2018-11-23T19:00Z", "p": 3.95},
      {"txt": "3.0495", "t": "2018-11-23T19:00Z", "p": 2.88}
    ],
    "pane": [
      {"txt": "EOS / Dollar, 1D, BITFINEX", "t": "2017-11-03T10:00Z", "p": 23.8}
    ]
  },
  "layer": [
    {
      "data": {"name": "zones"},
      "mark": {"type": "rect"},
      "encoding": {
        "x": {
          "field": "t", "type": "temporal",
          "scale": {"type": "utc", "domain": [{"year": 2017, "month": 11, "date": 1, "hours": 19, "minutes": 12, "utc": true}, {"year": 2018, "month": 12, "date": 3, "hours": 7, "minutes": 12, "utc": true}]},
          "axis": {
            "orient": "bottom", "offset": -26,
            "values": [
              {"year": 2017, "month": 11, "date": 6, "utc": true},
              {"year": 2017, "month": 12, "date": 1, "utc": true},
              {"year": 2018, "month": 1, "date": 1, "utc": true},
              {"year": 2018, "month": 2, "date": 1, "utc": true},
              {"year": 2018, "month": 3, "date": 1, "utc": true},
              {"year": 2018, "month": 4, "date": 1, "utc": true},
              {"year": 2018, "month": 5, "date": 1, "utc": true},
              {"year": 2018, "month": 6, "date": 1, "utc": true},
              {"year": 2018, "month": 7, "date": 1, "utc": true},
              {"year": 2018, "month": 8, "date": 1, "utc": true},
              {"year": 2018, "month": 9, "date": 1, "utc": true},
              {"year": 2018, "month": 10, "date": 1, "utc": true},
              {"year": 2018, "month": 11, "date": 1, "utc": true}
            ],
            "labelExpr": "utcmonth(datum.value) == 0 && utcdate(datum.value) == 1 ? utcFormat(datum.value, '%Y') : (utcdate(datum.value) == 1 ? utcFormat(datum.value, '%b') : utcdate(datum.value) + '')",
            "labelFontWeight": {"condition": {"test": "utcmonth(datum.value) == 0 && utcdate(datum.value) == 1", "value": "bold"}, "value": "normal"},
            "labelFlush": false,
            "labelOverlap": false,
            "labelPadding": 3,
            "tickSize": 4,
            "title": "Created with \u00a0\u00a0\u00a0\u00a0\u00a0\u00a0\u00a0 TradingView",
            "titleAnchor": "start",
            "titleAlign": "left",
            "titleBaseline": "middle",
            "titleX": -2,
            "titleY": 45,
            "titleFontSize": 13,
            "titleFontWeight": "normal",
            "titleColor": "#333333"
          }
        },
        "x2": {"field": "t2"},
        "y": {
          "field": "y1", "type": "quantitative",
          "scale": {"domain": [-1.28, 24.35], "nice": false, "zero": false},
          "axis": {
            "orient": "right", "offset": -51,
            "values": [0, 1, 2, 3, 4, 5, 6, 7, 8, 9, 10, 11, 12, 13, 14, 15, 16, 17, 18, 19, 20, 21, 22, 23, 24],
            "format": ".4f",
            "title": null,
            "tickSize": 4,
            "labelPadding": 2,
            "labelOverlap": false,
            "labelFlush": false
          }
        },
        "y2": {"field": "y2"},
        "color": {"field": "k", "type": "nominal", "scale": {"domain": ["profit", "loss"], "range": ["#cdeacb", "#ffcaca"]}, "legend": null}
      }
    },
    {
      "data": {"name": "lines"},
      "mark": {"type": "line"},
      "encoding": {
        "x": {"field": "t", "type": "temporal"},
        "y": {"field": "p", "type": "quantitative"},
        "detail": {"field": "g", "type": "nominal"},
        "color": {
          "field": "s", "type": "nominal", "legend": null,
          "scale": {
            "domain": ["redThick", "red", "redDot", "redDash", "redH", "blueThick", "blue", "blueDot", "purpleDot", "black", "blackThick", "gray", "grayDot", "blackDot", "entry"],
            "range": ["#ff0000", "#ff0000", "#ff6060", "#ff1a1a", "#ff0000", "#4a8ae6", "#4a8ae6", "#86afe8", "#4040f0", "#111111", "#111111", "#555555", "#6b6b6b", "#111111", "#8a8a8a"]
          }
        },
        "strokeWidth": {
          "field": "s", "type": "nominal", "legend": null,
          "scale": {
            "domain": ["redThick", "red", "redDot", "redDash", "redH", "blueThick", "blue", "blueDot", "purpleDot", "black", "blackThick", "gray", "grayDot", "blackDot", "entry"],
            "range": [2.6, 1.3, 1, 1.3, 1.6, 2.6, 1.1, 1.1, 1.1, 1.4, 2.2, 1.1, 1.3, 1.1, 1]
          }
        },
        "strokeDash": {
          "field": "s", "type": "nominal", "legend": null,
          "scale": {
            "domain": ["redThick", "red", "redDot", "redDash", "redH", "blueThick", "blue", "blueDot", "purpleDot", "black", "blackThick", "gray", "grayDot", "blackDot", "entry"],
            "range": [[1, 0], [1, 0], [1.5, 1.8], [6, 5], [3, 2], [1, 0], [1, 0], [1.5, 2], [1.5, 2], [1, 0], [1, 0], [1, 0], [2, 2], [2, 2], [1, 0]]
          }
        }
      }
    },
    {
      "data": {"name": "candles"},
      "mark": {"type": "rule", "color": "#000000", "strokeWidth": 1},
      "encoding": {
        "x": {"field": "t", "type": "temporal"},
        "y": {"field": "l", "type": "quantitative"},
        "y2": {"field": "h"}
      }
    },
    {
      "data": {"name": "candles"},
      "mark": {"type": "bar", "width": 3.4, "stroke": "#000000", "strokeWidth": 0.7},
      "encoding": {
        "x": {"field": "t", "type": "temporal"},
        "y": {"field": "o", "type": "quantitative"},
        "y2": {"field": "c"},
        "fill": {"condition": {"test": "datum.c < datum.o", "value": "#5c1a1a"}, "value": "#ffffff"}
      }
    },
    {
      "data": {"name": "notes"},
      "mark": {"type": "text", "font": "DejaVu Sans", "fontSize": 24, "color": "#1e1e1e", "align": "center", "baseline": "middle"},
      "encoding": {
        "x": {"field": "t", "type": "temporal"},
        "y": {"field": "p", "type": "quantitative"},
        "text": {"field": "txt"}
      }
    },
    {
      "data": {"name": "pane"},
      "mark": {"type": "text", "font": "Liberation Sans", "fontSize": 12, "fontWeight": "bold", "color": "#222222", "align": "left", "baseline": "middle"},
      "encoding": {
        "x": {"field": "t", "type": "temporal"},
        "y": {"field": "p", "type": "quantitative"},
        "text": {"field": "txt"}
      }
    },
    {
      "data": {"name": "boxes"},
      "mark": {"type": "rect", "cornerRadius": 2, "stroke": "#ffffff", "strokeWidth": 0.8},
      "encoding": {
        "x": {"field": "t", "type": "temporal"},
        "x2": {"field": "t2"},
        "y": {"field": "y1", "type": "quantitative"},
        "y2": {"field": "y2"},
        "color": {
          "field": "k", "type": "nominal", "legend": null,
          "scale": {"domain": ["target", "pnl", "stop", "ax_red", "ax_green", "ax_gray", "ax_black"], "range": ["#109b10", "#ff0000", "#ff0000", "#ff0000", "#0d9a0d", "#5d5d5d", "#000000"]}
        }
      }
    },
    {
      "data": {"name": "boxtext"},
      "mark": {"type": "text", "font": "Liberation Sans", "fontSize": 12.5, "color": "#ffffff", "align": "center", "baseline": "middle"},
      "encoding": {
        "x": {"field": "t", "type": "temporal"},
        "y": {"field": "p", "type": "quantitative"},
        "text": {"field": "txt"}
      }
    },
    {
      "data": {"name": "tagtext"},
      "mark": {"type": "text", "font": "Liberation Sans", "fontSize": 11, "fontWeight": "bold", "color": "#ffffff", "align": "left", "baseline": "middle"},
      "encoding": {
        "x": {"field": "t", "type": "temporal"},
        "y": {"field": "p", "type": "quantitative"},
        "text": {"field": "txt"}
      }
    }
  ]
}
